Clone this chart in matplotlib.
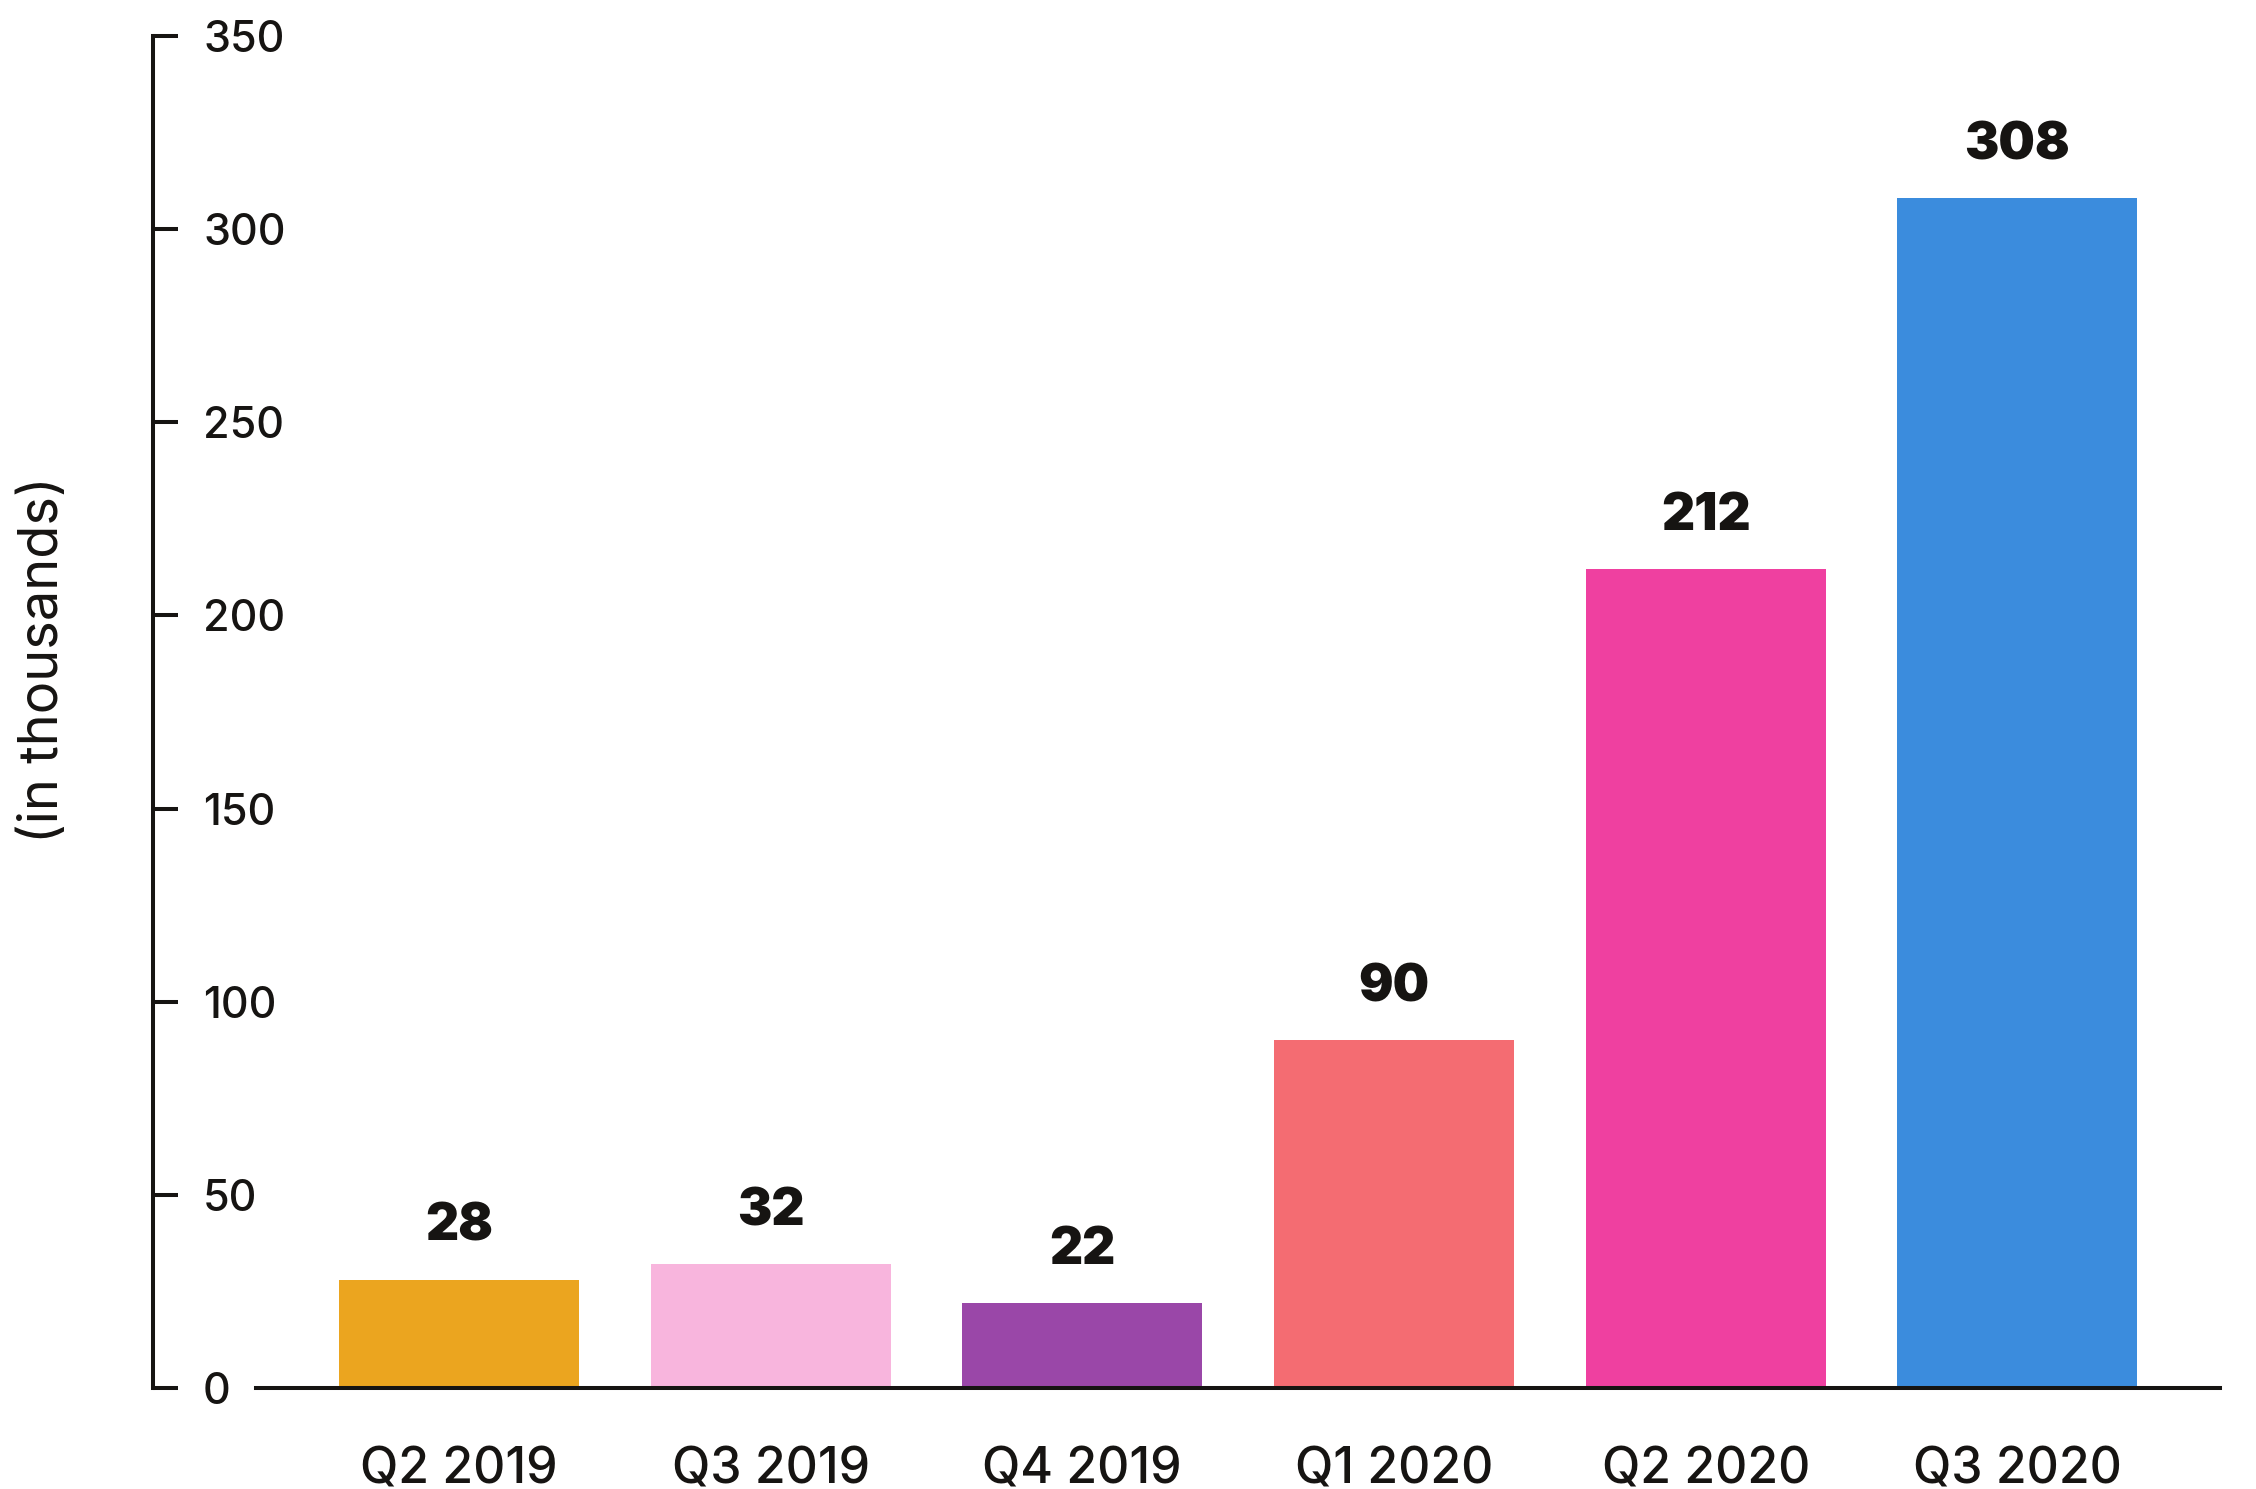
import matplotlib
matplotlib.use("Agg")
import matplotlib.pyplot as plt

categories = ["Q2 2019", "Q3 2019", "Q4 2019", "Q1 2020", "Q2 2020", "Q3 2020"]
values = [28, 32, 22, 90, 212, 308]
bar_colors = ["#EBA51F", "#F8B5DD", "#9A47A8", "#F46C72", "#EF40A0", "#3B8CDD"]
yticks = [0, 50, 100, 150, 200, 250, 300, 350]
ylabel = "(in thousands)"

TXT = "#161412"
FONT = "Inter"
W, H = 2256, 1489
fig = plt.figure(figsize=(W / 100, H / 100), dpi=100)
left, right, bottom, top = 152.5, 2220, 1388, 36
ax = fig.add_axes([left / W, (H - bottom) / H, (right - left) / W, (bottom - top) / H])

x = list(range(len(categories)))
ax.bar(x, values, width=0.77, color=bar_colors, linewidth=0, zorder=1)

for xi, v in zip(x, values):
    ax.annotate(str(v), (xi, v), xytext=(0, 28), textcoords="offset points",
                ha="center", va="baseline", fontsize=37, fontfamily=FONT,
                fontweight=900, color=TXT)

ax.set_xlim(-0.983, 5.650)
ax.set_ylim(0, 350)

for s in ["top", "right"]:
    ax.spines[s].set_visible(False)
ax.spines["left"].set_linewidth(2.9)
ax.spines["left"].set_color(TXT)
ax.spines["left"].set_bounds(0, 350)
ax.spines["bottom"].set_linewidth(2.9)
ax.spines["bottom"].set_color(TXT)
ax.spines["bottom"].set_bounds(-0.65, 5.65)

ax.set_yticks(yticks)
ax.set_yticklabels([str(t) for t in yticks])
ax.tick_params(axis="y", direction="in", length=18, width=2.9, color=TXT,
               pad=-36.4, labelsize=31, labelcolor=TXT)
for lbl in ax.get_yticklabels():
    lbl.set_horizontalalignment("left")
    lbl.set_fontfamily(FONT)
    lbl.set_fontweight(500)

ax.set_xticks(x)
ax.set_xticklabels(categories)
ax.tick_params(axis="x", length=0, pad=42, labelsize=36, labelcolor=TXT)
for lbl in ax.get_xticklabels():
    lbl.set_fontfamily(FONT)
    lbl.set_fontweight(500)

ax.set_ylabel(ylabel, fontsize=39, fontfamily=FONT, fontweight=400, color=TXT)
ax.yaxis.label.set_verticalalignment("center")
ax.yaxis.label.set_horizontalalignment("center")
ax.yaxis.set_label_coords((44 - left) / (right - left), (bottom - 660) / (bottom - top))

fig.savefig("out.png", dpi=100)
